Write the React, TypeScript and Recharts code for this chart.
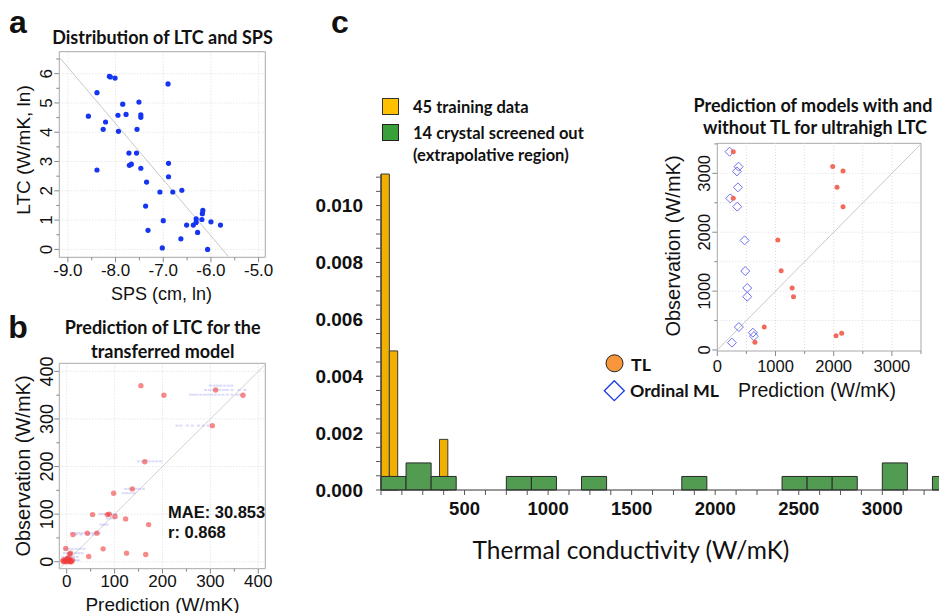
import React from 'react';
import { ScatterChart, Scatter, XAxis, YAxis, ReferenceLine, ReferenceArea, ComposedChart } from 'recharts';

const ARIAL = '"Liberation Sans", Arial, sans-serif';
const CAL = 'Lato, "Open Sans", sans-serif';

// ---------- Panel a data ----------
const spsLtcPoints = [
  { sps: -8.57, ltc: 4.55 }, { sps: -8.39, ltc: 5.35 }, { sps: -8.39, ltc: 2.71 }, { sps: -8.26, ltc: 4.1 },
  { sps: -8.21, ltc: 4.35 }, { sps: -8.13, ltc: 5.91 }, { sps: -8.11, ltc: 5.89 }, { sps: -8.01, ltc: 5.85 },
  { sps: -7.95, ltc: 4.58 }, { sps: -7.94, ltc: 4.03 }, { sps: -7.85, ltc: 4.96 }, { sps: -7.78, ltc: 4.61 },
  { sps: -7.72, ltc: 3.29 }, { sps: -7.71, ltc: 2.87 }, { sps: -7.67, ltc: 2.91 }, { sps: -7.56, ltc: 3.29 },
  { sps: -7.55, ltc: 4.1 }, { sps: -7.51, ltc: 5.03 }, { sps: -7.47, ltc: 2.77 }, { sps: -7.47, ltc: 4.59 },
  { sps: -7.47, ltc: 4.51 }, { sps: -7.37, ltc: 1.48 }, { sps: -7.35, ltc: 2.3 }, { sps: -7.32, ltc: 0.65 },
  { sps: -7.07, ltc: 1.96 }, { sps: -7.02, ltc: 0.05 }, { sps: -7.0, ltc: 0.98 }, { sps: -6.9, ltc: 5.65 },
  { sps: -6.89, ltc: 2.94 }, { sps: -6.89, ltc: 2.48 }, { sps: -6.8, ltc: 1.96 }, { sps: -6.63, ltc: 0.36 },
  { sps: -6.61, ltc: 2.02 }, { sps: -6.51, ltc: 0.83 }, { sps: -6.37, ltc: 0.83 }, { sps: -6.31, ltc: 1.04 },
  { sps: -6.31, ltc: 0.92 }, { sps: -6.28, ltc: 0.58 }, { sps: -6.19, ltc: 1.02 }, { sps: -6.18, ltc: 1.22 },
  { sps: -6.17, ltc: 1.33 }, { sps: -6.07, ltc: 0.0 }, { sps: -6.0, ltc: 0.94 }, { sps: -5.8, ltc: 0.83 },
];
const fitLineA = [{ sps: -9.18, ltc: 6.56 }, { sps: -5.63, ltc: -0.25 }];
const xDomainA = [-9.18, -4.86];
const yDomainA = [-0.27, 6.75];
const xTicksA = [-9, -8.5, -8, -7.5, -7, -6.5, -6, -5.5, -5];
const yTicksA = [0, 0.5, 1, 1.5, 2, 2.5, 3, 3.5, 4, 4.5, 5, 5.5, 6, 6.5];
const xGridA = [-9, -8, -7, -6, -5];
const yGridA = [0, 1, 2, 3, 4, 5, 6];

// ---------- Panel b data ----------
const transferRed = [
  [155, 370], [203, 350], [311, 361], [368, 350], [304, 286], [163, 210], [137, 153], [98, 144],
  [54, 99], [85, 99], [89, 100], [101, 95], [123, 90], [171, 78], [43, 60], [63, 60], [13, 57],
  [76, 27], [125, 18], [165, 15], [46, 11], [-2, 28], [8, 18], [6, 16],
  [-8, 2], [-5, 4], [-3, 1], [0, 0], [2, 3], [4, 1], [6, 5], [8, 2], [10, 0], [-6, 0], [1, 6],
  [3, 8], [5, 2], [-2, 3], [7, 0], [12, 3],
];
const bootstrapRows = [
  { obs: 370, preds: [300, 308, 315, 322, 330, 338, 345] },
  { obs: 361, preds: [290, 298, 305, 312, 320, 328, 335, 345, 360, 372] },
  { obs: 351, preds: [258, 265, 272, 280, 288, 295, 302, 310, 318, 326, 335, 345, 355, 362] },
  { obs: 286, preds: [230, 238, 252, 262, 275, 285, 295] },
  { obs: 211, preds: [150, 158, 165, 172, 180, 188, 196] },
  { obs: 153, preds: [123, 130, 137, 145, 152, 160] },
  { obs: 144, preds: [118, 125, 132, 140] },
  { obs: 100, preds: [70, 76, 82, 88, 95, 102] },
  { obs: 91, preds: [85, 92, 98] },
  { obs: 78, preds: [72, 78, 84] },
  { obs: 60, preds: [10, 18, 25, 32, 40, 48, 55, 62, 68] },
  { obs: 57, preds: [20, 30, 45, 55] },
  { obs: 27, preds: [-2, 5, 12, 20, 28, 36] },
  { obs: 18, preds: [-5, 2, 10, 18, 25, 32] },
  { obs: 10, preds: [-8, 0, 8, 15, 22] },
  { obs: 3, preds: [-10, -5, 0, 5, 10, 15, 20, 25] },
];
const xDomainB = [-15.4, 414.6];
const yDomainB = [-14.7, 417];
const ticksB = [0, 50, 100, 150, 200, 250, 300, 350, 400];
const gridB = [0, 100, 200, 300, 400];

// ---------- Panel c data ----------
const trainingBins = [
  { from: 0, to: 50, density: 0.01111 },
  { from: 50, to: 100, density: 0.00489 },
  { from: 350, to: 400, density: 0.00178 },
];
const screenedBins = [
  { from: 0, to: 150, density: 0.000476 }, { from: 150, to: 300, density: 0.000952 },
  { from: 300, to: 450, density: 0.000476 }, { from: 750, to: 900, density: 0.000476 },
  { from: 900, to: 1050, density: 0.000476 }, { from: 1200, to: 1350, density: 0.000476 },
  { from: 1800, to: 1950, density: 0.000476 }, { from: 2400, to: 2550, density: 0.000476 },
  { from: 2550, to: 2700, density: 0.000476 }, { from: 2700, to: 2850, density: 0.000476 },
  { from: 3000, to: 3150, density: 0.000952 }, { from: 3300, to: 3450, density: 0.000476 },
];
const xDomainC = [0, 3405];
const yDomainC = [0, 0.0111];
const xTicksC = [0, 125, 250, 375, 500, 625, 750, 875, 1000, 1125, 1250, 1375, 1500, 1625, 1750, 1875, 2000,
  2125, 2250, 2375, 2500, 2625, 2750, 2875, 3000, 3125, 3250, 3375];
const yTicksC = [0, 0.0005, 0.001, 0.0015, 0.002, 0.0025, 0.003, 0.0035, 0.004, 0.0045, 0.005, 0.0055, 0.006,
  0.0065, 0.007, 0.0075, 0.008, 0.0085, 0.009, 0.0095, 0.01, 0.0105, 0.011];

// ---------- Inset data ----------
const tlPoints = [
  [274, 3367], [274, 2575], [1983, 3118], [2160, 3039], [2057, 2762], [2160, 2434], [1040, 1868],
  [1097, 1347], [1286, 1053], [1309, 905], [806, 390], [646, 130], [2040, 243], [2137, 283],
];
const ordinalPoints = [
  [211, 3367], [366, 3113], [337, 3033], [354, 2762], [223, 2575], [343, 2434], [469, 1862],
  [480, 1341], [514, 1053], [514, 905], [371, 390], [611, 294], [629, 235], [251, 125],
];
const xDomainI = [0, 3500];
const yDomainI = [-17, 3510];
const ticksI = [0, 500, 1000, 1500, 2000, 2500, 3000, 3500];
const gridI = [500, 1000, 1500, 2000, 2500, 3000];

// ---------- helpers ----------
type TickOpt = {
  isMajor: (v: number) => boolean; fmt: (v: number) => string; size: number; bold?: boolean;
  majorLen: number; minorLen: number; off: number; stroke: string; family?: string; color?: string;
};
const bottomTick = (o: TickOpt) => (p: any) => {
  const v = p.payload.value; const m = o.isMajor(v);
  return (
    <g>
      <line x1={p.x} x2={p.x} y1={p.y} y2={p.y + (m ? o.majorLen : o.minorLen)} stroke={o.stroke} />
      {m && (
        <text x={p.x} y={p.y + o.off} textAnchor="middle" dominantBaseline="central" fontSize={o.size}
          fontWeight={o.bold ? 700 : 400} fontFamily={o.family || ARIAL} fill={o.color || '#111'}>{o.fmt(v)}</text>
      )}
    </g>
  );
};
const leftTick = (o: TickOpt & { rotate?: boolean; anchor?: string }) => (p: any) => {
  const v = p.payload.value; const m = o.isMajor(v);
  const lx = p.x - o.off;
  return (
    <g>
      <line x1={p.x} x2={p.x - (m ? o.majorLen : o.minorLen)} y1={p.y} y2={p.y} stroke={o.stroke} />
      {m && (
        <text x={lx} y={p.y} textAnchor={o.rotate ? 'middle' : (o.anchor as any) || 'end'} dominantBaseline="central"
          transform={o.rotate ? `rotate(-90 ${lx} ${p.y})` : undefined}
          fontSize={o.size} fontWeight={o.bold ? 700 : 400} fontFamily={o.family || ARIAL} fill={o.color || '#111'}>{o.fmt(v)}</text>
      )}
    </g>
  );
};
const near = (v: number, step: number) => Math.abs(v / step - Math.round(v / step)) < 1e-6;

const Txt = ({ x, y, size, children, bold, family, rotate, anchor, color }: any) => (
  <div style={{
    position: 'absolute', left: x, top: y, fontSize: size, fontWeight: bold ? 700 : 400,
    fontFamily: family || ARIAL, lineHeight: 1, whiteSpace: 'nowrap', color: color || '#111',
    transform: `translate(${anchor === 'start' ? '0' : '-50%'}, -50%)${rotate ? ' rotate(-90deg)' : ''}`,
  }}>{children}</div>
);

const FRAME = '#a8a8a8';
const GRID = '#dcdcdc';

export default function App() {
  const redB = transferRed.map(([pred, obs]) => ({ pred, obs }));
  const blueB = bootstrapRows.flatMap((r) => r.preds.map((pred) => ({ pred, obs: r.obs })));
  const tl = tlPoints.map(([pred, obs]) => ({ pred, obs }));
  const ord = ordinalPoints.map(([pred, obs]) => ({ pred, obs }));
  const hiddenC = screenedBins.map((b) => ({ x: b.from, y: b.density }));

  return (
    <div style={{ position: 'absolute', left: 0, top: 0, width: 939, height: 613, overflow: 'hidden', background: '#fff' }}>
      {/* Panel letters */}
      <Txt x={18} y={22} size={32} bold>a</Txt>
      <Txt x={18} y={327} size={32} bold>b</Txt>
      <Txt x={340} y={22} size={32} bold>c</Txt>

      {/* ---------- Panel a ---------- */}
      <Txt x={162.5} y={37} size={18} bold family={CAL}>Distribution of LTC and SPS</Txt>
      <div style={{ position: 'absolute', left: 0, top: 0 }}>
        <ScatterChart width={280} height={300} margin={{ top: 51.7, right: 14.7, left: 0, bottom: 0 }}>
          <XAxis type="number" dataKey="sps" domain={xDomainA} allowDataOverflow ticks={xTicksA} interval={0}
            height={42.7} axisLine={false} tickLine={false} tickSize={0} tickMargin={0}
            tick={bottomTick({ isMajor: (v) => near(v, 1), fmt: (v) => v.toFixed(1), size: 17, majorLen: 5, minorLen: 3, off: 12.7, stroke: '#888' })} />
          <YAxis type="number" dataKey="ltc" domain={yDomainA} allowDataOverflow ticks={yTicksA} interval={0}
            width={59.3} axisLine={false} tickLine={false} tickSize={0} tickMargin={0}
            tick={leftTick({ isMajor: (v) => near(v, 1), fmt: (v) => String(v), size: 17, majorLen: 5, minorLen: 3, off: 12.6, stroke: '#888', rotate: true })} />
          {xGridA.map((v) => <ReferenceLine key={'gx' + v} x={v} stroke={GRID} strokeDasharray="1 2" ifOverflow="visible" />)}
          {yGridA.map((v) => <ReferenceLine key={'gy' + v} y={v} stroke={GRID} strokeDasharray="1 2" ifOverflow="visible" />)}
          <ReferenceLine segment={[{ x: fitLineA[0].sps, y: fitLineA[0].ltc }, { x: fitLineA[1].sps, y: fitLineA[1].ltc }]}
            stroke="#c8c8c8" strokeWidth={1} ifOverflow="visible" />
          <ReferenceArea x1={xDomainA[0]} x2={xDomainA[1]} y1={yDomainA[0]} y2={yDomainA[1]} fill="none" stroke={FRAME} ifOverflow="visible" />
          <Scatter data={spsLtcPoints} isAnimationActive={false}
            shape={(p: any) => <circle cx={p.cx} cy={p.cy} r={2.6} fill="#1535f0" />} />
        </ScatterChart>
      </div>
      <Txt x={23} y={150} size={19} rotate>LTC (W/mK, ln)</Txt>
      <Txt x={161.5} y={294} size={18}>SPS (cm, ln)</Txt>

      {/* ---------- Panel b ---------- */}
      <Txt x={162.7} y={326.7} size={18} bold family={CAL}>Prediction of LTC for the</Txt>
      <Txt x={162.7} y={351} size={18} bold family={CAL}>transferred model</Txt>
      <div style={{ position: 'absolute', left: 0, top: 300 }}>
        <ScatterChart width={280} height={313} margin={{ top: 63.3, right: 14.7, left: 0, bottom: 0 }}>
          <XAxis type="number" dataKey="pred" domain={xDomainB} allowDataOverflow ticks={ticksB} interval={0}
            height={44.3} axisLine={false} tickLine={false} tickSize={0} tickMargin={0}
            tick={bottomTick({ isMajor: (v) => near(v, 100), fmt: (v) => String(v), size: 17, majorLen: 5, minorLen: 3, off: 13, stroke: '#888' })} />
          <YAxis type="number" dataKey="obs" domain={yDomainB} allowDataOverflow ticks={ticksB} interval={0}
            width={59.3} axisLine={false} tickLine={false} tickSize={0} tickMargin={0}
            tick={leftTick({ isMajor: (v) => near(v, 100), fmt: (v) => String(v), size: 18, majorLen: 5, minorLen: 3, off: 12, stroke: '#888', rotate: true })} />
          {gridB.map((v) => <ReferenceLine key={'gx' + v} x={v} stroke={GRID} strokeDasharray="1 2" ifOverflow="visible" />)}
          {gridB.map((v) => <ReferenceLine key={'gy' + v} y={v} stroke={GRID} strokeDasharray="1 2" ifOverflow="visible" />)}
          <ReferenceLine segment={[{ x: -15, y: -15 }, { x: 414.6, y: 414.6 }]} stroke="#d0d0d0" ifOverflow="visible" />
          <ReferenceArea x1={xDomainB[0]} x2={xDomainB[1]} y1={yDomainB[0]} y2={yDomainB[1]} fill="none" stroke={FRAME} ifOverflow="visible" />
          <Scatter data={blueB} isAnimationActive={false}
            shape={(p: any) => <rect x={p.cx - 1.5} y={p.cy - 1} width={3} height={2} fill="rgba(90,90,230,0.22)" />} />
          <Scatter data={redB} isAnimationActive={false}
            shape={(p: any) => <circle cx={p.cx} cy={p.cy} r={2.7} fill="rgba(240,60,60,0.6)" />} />
        </ScatterChart>
      </div>
      <Txt x={168} y={512} size={16.5} bold anchor="start">MAE: 30.853</Txt>
      <Txt x={168} y={532} size={16.5} bold anchor="start">r: 0.868</Txt>
      <Txt x={23} y={466} size={20} rotate>Observation (W/mK)</Txt>
      <Txt x={162.5} y={603.5} size={19}>Prediction (W/mK)</Txt>

      {/* ---------- Panel c ---------- */}
      <div style={{ position: 'absolute', left: 290, top: 160 }}>
        <ComposedChart width={660} height={370} margin={{ top: 14.3, right: 0, left: 0, bottom: 0 }}>
          <XAxis type="number" dataKey="x" domain={xDomainC} allowDataOverflow ticks={xTicksC} interval={0}
            height={40} axisLine={{ stroke: '#333' }} tickLine={false} tickSize={0} tickMargin={0}
            tick={bottomTick({ isMajor: (v) => v > 0 && near(v, 500), fmt: (v) => String(v), size: 18.5, bold: true, majorLen: 5, minorLen: 5, off: 18, stroke: '#555' })} />
          <YAxis type="number" dataKey="y" domain={yDomainC} allowDataOverflow ticks={yTicksC} interval={0}
            width={91} axisLine={{ stroke: '#333' }} tickLine={false} tickSize={0} tickMargin={0}
            tick={leftTick({ isMajor: (v) => near(v, 0.002), fmt: (v) => v.toFixed(3), size: 19, bold: true, majorLen: 5, minorLen: 5, off: 18, stroke: '#555' })} />
          <Scatter data={hiddenC} isAnimationActive={false} shape={() => <g />} />
          {trainingBins.map((b) => (
            <ReferenceArea key={'t' + b.from} x1={b.from} x2={b.to} y1={0} y2={b.density} fill="#f0b000" fillOpacity={1}
              stroke="#3a3a3a" strokeWidth={1} ifOverflow="visible" />
          ))}
          {screenedBins.map((b) => (
            <ReferenceArea key={'s' + b.from} x1={b.from} x2={b.to} y1={0} y2={b.density} fill="#529c52" fillOpacity={1}
              stroke="#2a2a2a" strokeWidth={1} ifOverflow="visible" />
          ))}
        </ComposedChart>
      </div>
      <Txt x={631} y={550} size={24.5} family={CAL}>Thermal conductivity (W/mK)</Txt>
      {/* legend c */}
      <div style={{ position: 'absolute', left: 382, top: 98, width: 17, height: 17, background: '#ffc000', border: '1px solid #333', boxSizing: 'border-box' }} />
      <div style={{ position: 'absolute', left: 382, top: 124, width: 17, height: 17, background: '#37a03a', border: '1px solid #222', boxSizing: 'border-box' }} />
      <Txt x={413} y={107} size={16.5} bold family={CAL} anchor="start">45 training data</Txt>
      <Txt x={413} y={133} size={16.5} bold family={CAL} anchor="start">14 crystal screened out</Txt>
      <Txt x={413} y={155} size={16.5} bold family={CAL} anchor="start">(extrapolative region)</Txt>

      {/* ---------- Inset ---------- */}
      <Txt x={813} y={105} size={18} bold family={CAL}>Prediction of models with and</Txt>
      <Txt x={815} y={126.7} size={18} bold family={CAL}>without TL for ultrahigh LTC</Txt>
      <div style={{ position: 'absolute', left: 660, top: 130 }}>
        <ScatterChart width={279} height={250} margin={{ top: 13.3, right: 18, left: 0, bottom: 0 }}>
          <XAxis type="number" dataKey="pred" domain={xDomainI} allowDataOverflow ticks={ticksI} interval={0}
            height={29} axisLine={false} tickLine={false} tickSize={0} tickMargin={0}
            tick={bottomTick({ isMajor: (v) => near(v, 1000) && v < 3500, fmt: (v) => String(v), size: 16.5, majorLen: 5, minorLen: 3, off: 15, stroke: '#888' })} />
          <YAxis type="number" dataKey="obs" domain={yDomainI} allowDataOverflow ticks={ticksI} interval={0}
            width={57.3} axisLine={false} tickLine={false} tickSize={0} tickMargin={0}
            tick={leftTick({ isMajor: (v) => near(v, 1000) && v < 3500, fmt: (v) => String(v), size: 16.5, majorLen: 5, minorLen: 3, off: 13, stroke: '#888', rotate: true })} />
          {gridI.map((v) => <ReferenceLine key={'gx' + v} x={v} stroke={GRID} strokeDasharray="1 2" ifOverflow="visible" />)}
          {gridI.map((v) => <ReferenceLine key={'gy' + v} y={v} stroke={GRID} strokeDasharray="1 2" ifOverflow="visible" />)}
          <ReferenceLine segment={[{ x: 0, y: 0 }, { x: 3500, y: 3500 }]} stroke="#c8c8c8" ifOverflow="visible" />
          <ReferenceArea x1={xDomainI[0]} x2={xDomainI[1]} y1={yDomainI[0]} y2={yDomainI[1]} fill="none" stroke={FRAME} ifOverflow="visible" />
          <Scatter data={ord} isAnimationActive={false}
            shape={(p: any) => <polygon points={`${p.cx},${p.cy - 4.5} ${p.cx + 4.5},${p.cy} ${p.cx},${p.cy + 4.5} ${p.cx - 4.5},${p.cy}`} fill="none" stroke="#7070f0" strokeWidth={1} />} />
          <Scatter data={tl} isAnimationActive={false}
            shape={(p: any) => <circle cx={p.cx} cy={p.cy} r={2.5} fill="#f26a5a" />} />
        </ScatterChart>
      </div>
      <Txt x={673} y={246} size={20} rotate>Observation (W/mK)</Txt>
      <Txt x={817} y={391} size={19.5}>Prediction (W/mK)</Txt>
      {/* legend TL / Ordinal ML */}
      <svg style={{ position: 'absolute', left: 600, top: 350 }} width={30} height={55}>
        <circle cx={14.5} cy={13.3} r={8.5} fill="#f7963a" stroke="#222" strokeWidth={1} />
        <polygon points="14.3,30.7 24.3,40.7 14.3,50.7 4.3,40.7" fill="#fff" stroke="#1a3ae0" strokeWidth={1.3} />
      </svg>
      <Txt x={631} y={365} size={17.8} bold family={CAL} anchor="start">TL</Txt>
      <Txt x={630} y={390.7} size={17.8} bold family={CAL} anchor="start">Ordinal ML</Txt>
    </div>
  );
}
